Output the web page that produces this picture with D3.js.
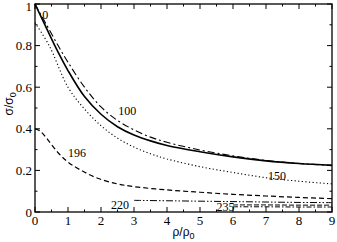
<!DOCTYPE html>
<html>
<head>
<meta charset="utf-8">
<script src="https://cdn.jsdelivr.net/npm/d3@7"></script>
<style>
  body { margin: 0; background: #fff; }
  svg { display: block; }
</style>
</head>
<body>
<div id="chart"></div>
<script>
// sigma/sigma0 versus rho/rho0, one curve per temperature label
const curve0 = [[0,1],[0.3,0.9],[0.6,0.8],[1,0.68],[1.5,0.555],[2,0.47],[2.5,0.41],[3,0.37],[3.5,0.342],[4,0.32],[5,0.29],[6,0.265],[7,0.246],[8,0.233],[9,0.224]];
const curve100 = [[0,1],[0.35,0.9],[0.7,0.8],[1,0.72],[1.5,0.6],[2,0.505],[2.5,0.44],[3,0.395],[3.5,0.36],[4,0.335],[5,0.298],[6,0.27],[7,0.248],[8,0.233],[9,0.224]];
const curve150 = [[0,0.91],[0.43,0.8],[1,0.6],[1.5,0.495],[2,0.415],[2.5,0.355],[3,0.312],[3.5,0.28],[4,0.255],[5,0.218],[6,0.19],[7,0.165],[8,0.148],[9,0.135]];
const curve196 = [[0,0.4],[0.15,0.39],[0.35,0.355],[0.7,0.285],[1,0.24],[1.4,0.2],[1.9,0.162],[2.5,0.135],[3,0.122],[4,0.106],[5,0.095],[6,0.085],[7,0.077],[8,0.07],[9,0.064]];
const curve220 = [[3,0.056],[4,0.054],[5,0.052],[6,0.05],[7,0.048],[8,0.046],[9,0.045]];
const curve235 = [[6,0.034],[7,0.034],[8,0.033],[9,0.033]];
const curve235b = [[6,0.025],[7,0.025],[8,0.024],[9,0.024]];

const xTicks = [0,1,2,3,4,5,6,7,8,9];
const yTicks = [0,0.2,0.4,0.6,0.8,1];
const yTickLabels = ["0","0.2","0.4","0.6","0.8","1"];

const serif = "'Liberation Serif', 'Times New Roman', 'DejaVu Serif', serif";
const sans = "'Liberation Sans', Arial, 'DejaVu Sans', sans-serif";

const series = [
    { data: curve0,    dash: null,                width: 1.6 },
    { data: curve100,  dash: "7,3,2,3",           width: 1.1 },
    { data: curve150,  dash: "1.2,2.4",           width: 1.1 },
    { data: curve196,  dash: "5,3",               width: 1.2 },
    { data: curve220,  dash: "7,2,1.5,2,1.5,2",   width: 1.0 },
    { data: curve235,  dash: "5,2",               width: 1.0 },
    { data: curve235b, dash: "5,2,1.5,2",         width: 1.0 }
];

const labels = [
    { text: "0",   lx: 0.22, ly: 0.93 },
    { text: "100", lx: 2.52, ly: 0.468 },
    { text: "150", lx: 7.06, ly: 0.154 },
    { text: "196", lx: 1.0,  ly: 0.264 },
    { text: "220", lx: 2.3,  ly: 0.014 },
    { text: "235", lx: 5.5,  ly: 0.004 }
];

const width = 337, height = 242;
const margin = { left: 35, right: 5, top: 4, bottom: 30 };

const svg = d3.select("#chart").append("svg")
    .attr("width", width)
    .attr("height", height);

const x = d3.scaleLinear().domain([0, 9]).range([margin.left, width - margin.right]);
const y = d3.scaleLinear().domain([0, 1]).range([height - margin.bottom, margin.top]);

const x0 = x(0), x1 = x(9), y0 = y(0), y1 = y(1);

// ticks, inward on all four sides
const ticks = svg.append("g").attr("stroke", "#000").attr("stroke-width", 1);
d3.range(0, 9.01, 0.5).forEach(function (v) {
    let len = (Math.abs(v - Math.round(v)) < 1e-6) ? 5 : 2.5;
    ticks.append("line").attr("x1", x(v)).attr("x2", x(v)).attr("y1", y0).attr("y2", y0 - len);
    ticks.append("line").attr("x1", x(v)).attr("x2", x(v)).attr("y1", y1).attr("y2", y1 + len);
});
d3.range(0, 1.001, 0.1).forEach(function (v) {
    let len = (Math.round(v * 10) % 2 == 0) ? 5 : 2.5;
    ticks.append("line").attr("y1", y(v)).attr("y2", y(v)).attr("x1", x0).attr("x2", x0 + len);
    ticks.append("line").attr("y1", y(v)).attr("y2", y(v)).attr("x1", x1).attr("x2", x1 - len);
});

// curves
const line = d3.line().x(d => x(d[0])).y(d => y(d[1])).curve(d3.curveCatmullRom.alpha(0.5));
series.forEach(function (s) {
    svg.append("path")
        .attr("d", line(s.data))
        .attr("fill", "none")
        .attr("stroke", "#000")
        .attr("stroke-width", s.width)
        .attr("stroke-dasharray", s.dash);
});

svg.selectAll(".curve-label").data(labels).enter().append("text")
    .attr("class", "curve-label")
    .attr("font-family", serif)
    .attr("font-size", "12px")
    .attr("x", d => x(d.lx))
    .attr("y", d => y(d.ly))
    .text(d => d.text);

// frame
svg.append("rect")
    .attr("x", x0).attr("y", y1)
    .attr("width", x1 - x0).attr("height", y0 - y1)
    .attr("fill", "none").attr("stroke", "#000").attr("stroke-width", 1.3);

// tick labels
svg.selectAll(".xl").data(xTicks).enter().append("text")
    .attr("font-family", serif)
    .attr("font-size", "13px")
    .attr("x", d => x(d))
    .attr("y", y0 + 13)
    .attr("text-anchor", "middle")
    .text(d => d);

svg.selectAll(".yl").data(yTicks).enter().append("text")
    .attr("font-family", serif)
    .attr("font-size", "13px")
    .attr("x", x0 - 3)
    .attr("y", (d, i) => i == yTicks.length - 1 ? y(d) + 7 : y(d) + 4.5)
    .attr("text-anchor", "end")
    .text((d, i) => yTickLabels[i]);

// axis titles
const xt = svg.append("text")
    .attr("font-family", sans).attr("font-size", "12px")
    .attr("x", x(4.5)).attr("y", height - 6).attr("text-anchor", "middle");
xt.append("tspan").text("ρ/ρ");
xt.append("tspan").attr("font-size", "9px").attr("dy", 3).text("0");

const yt = svg.append("text")
    .attr("font-family", sans).attr("font-size", "12px")
    .attr("transform", `translate(13, ${y(0.52)}) rotate(-90)`)
    .attr("text-anchor", "middle");
yt.append("tspan").text("σ/σ");
yt.append("tspan").attr("font-size", "9px").attr("dy", 3).text("0");
</script>
</body>
</html>
